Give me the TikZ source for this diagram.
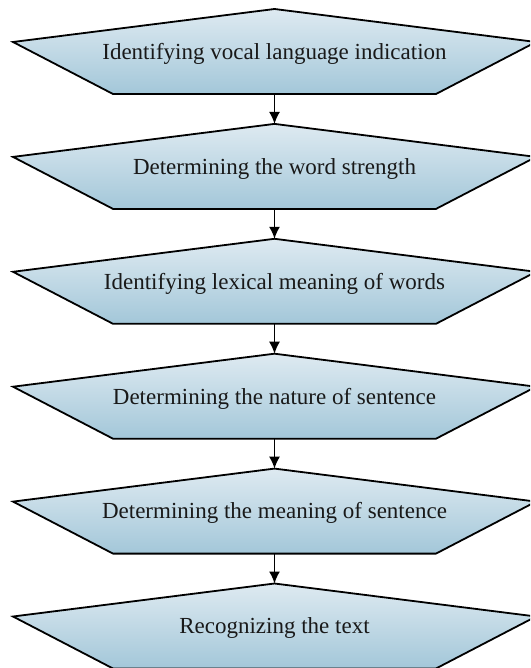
\documentclass[tikz,border=0pt]{standalone}
\usepackage{fontspec}
\setmainfont{Liberation Serif}
\usetikzlibrary{positioning,arrows.meta}

% one step of the chart: name, y of the apex, text
\newcommand{\stepshape}[3]{%
  \path[box] (274.5,#2) -- ++(261.5,33) -- ++(-100,52) -- ++(-323,0) -- ++(-100,-52) -- cycle;
  \coordinate (#1top) at (274.5,#2);
  \coordinate (#1bot) at (274.5,{#2+85});
  \node[lbl] (#1) at (274.5,{#2+50.3}) {#3};
}

\begin{document}
\begin{tikzpicture}
    [x=1pt,y=-1pt,
     box/.style={draw=black,line width=1.8pt,line join=miter,
                 top color={rgb,255:red,222;green,234;blue,241},
                 bottom color={rgb,255:red,163;green,199;blue,217}},
     lbl/.style={anchor=base,inner sep=0pt,text={rgb,255:red,25;green,25;blue,25},
                 font=\fontsize{23}{27}\selectfont},
     arr/.style={-{Latex[length=12pt,width=11pt]},line width=1.5pt}]
    \useasboundingbox (0,0) rectangle (530,668);
    \clip (0,0) rectangle (530,668);
    \stepshape{s1}{9}{Identifying vocal language indication}
    \stepshape{s2}{123.9}{Determining the word strength}
    \stepshape{s3}{238.8}{Identifying lexical meaning of words}
    \stepshape{s4}{353.7}{Determining the nature of sentence}
    \stepshape{s5}{468.6}{Determining the meaning of sentence}
    \stepshape{s6}{583.5}{Recognizing the text}
    \draw[arr] (s1bot) -- (s2top);
    \draw[arr] (s2bot) -- (s3top);
    \draw[arr] (s3bot) -- (s4top);
    \draw[arr] (s4bot) -- (s5top);
    \draw[arr] (s5bot) -- (s6top);
\end{tikzpicture}
\end{document}
